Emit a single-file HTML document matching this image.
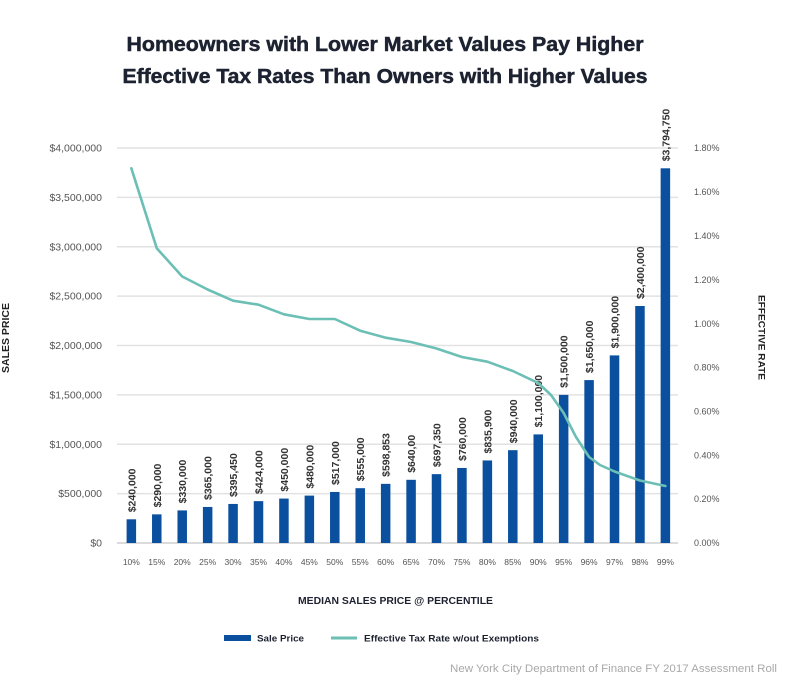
<!DOCTYPE html>
<html>
<head>
<meta charset="utf-8">
<style>
html,body{margin:0;padding:0;background:#fff;}
svg{display:block;}
text{font-family:"Liberation Sans",Arial,sans-serif;}
.yl{font-size:10.5px;fill:#555;text-anchor:end;}
.yr{font-size:9px;fill:#555;text-anchor:start;}
.xl{font-size:8.5px;fill:#555;text-anchor:middle;}
.bl{font-size:10.5px;fill:#333;font-weight:bold;text-anchor:start;}
.grid{stroke:#e2e2e2;stroke-width:1.5;}
.bar{fill:#0b4f9f;}
</style>
</head>
<body>
<svg width="796" height="686" viewBox="0 0 796 686" xmlns="http://www.w3.org/2000/svg">
<rect width="796" height="686" fill="#fff"/>
<!-- Title -->
<text x="385" y="51" text-anchor="middle" font-size="20" font-weight="bold" fill="#1d2231" stroke="#1d2231" stroke-width="0.5" textLength="517" lengthAdjust="spacingAndGlyphs">Homeowners with Lower Market Values Pay Higher</text>
<text x="385" y="83" text-anchor="middle" font-size="20" font-weight="bold" fill="#1d2231" stroke="#1d2231" stroke-width="0.5" textLength="525" lengthAdjust="spacingAndGlyphs">Effective Tax Rates Than Owners with Higher Values</text>

<!-- grid lines -->
<g class="grid">
<line x1="117" y1="148" x2="678" y2="148"/>
<line x1="117" y1="197.4" x2="678" y2="197.4"/>
<line x1="117" y1="246.75" x2="678" y2="246.75"/>
<line x1="117" y1="296.1" x2="678" y2="296.1"/>
<line x1="117" y1="345.5" x2="678" y2="345.5"/>
<line x1="117" y1="394.9" x2="678" y2="394.9"/>
<line x1="117" y1="444.25" x2="678" y2="444.25"/>
<line x1="117" y1="493.6" x2="678" y2="493.6"/>
</g>
<line x1="117" y1="543" x2="678" y2="543" stroke="#cfcfcf" stroke-width="1.5"/>

<!-- left axis labels -->
<g class="yl">
<text x="102" y="151.5">$4,000,000</text>
<text x="102" y="201">$3,500,000</text>
<text x="102" y="250.3">$3,000,000</text>
<text x="102" y="299.6">$2,500,000</text>
<text x="102" y="349">$2,000,000</text>
<text x="102" y="398.4">$1,500,000</text>
<text x="102" y="447.8">$1,000,000</text>
<text x="102" y="497.1">$500,000</text>
<text x="102" y="546.5">$0</text>
</g>

<!-- right axis labels -->
<g class="yr">
<text x="694" y="151">1.80%</text>
<text x="694" y="195">1.60%</text>
<text x="694" y="239">1.40%</text>
<text x="694" y="283">1.20%</text>
<text x="694" y="327">1.00%</text>
<text x="694" y="370.5">0.80%</text>
<text x="694" y="414.5">0.60%</text>
<text x="694" y="458.5">0.40%</text>
<text x="694" y="502">0.20%</text>
<text x="694" y="546">0.00%</text>
</g>

<!-- axis titles -->
<text transform="translate(9,338) rotate(-90)" text-anchor="middle" font-size="10" font-weight="bold" fill="#222" textLength="70" lengthAdjust="spacingAndGlyphs">SALES PRICE</text>
<text transform="translate(758.5,337.5) rotate(90)" text-anchor="middle" font-size="9.5" font-weight="bold" fill="#222" textLength="85" lengthAdjust="spacingAndGlyphs">EFFECTIVE RATE</text>

<!-- bars -->
<g class="bar">
<rect x="126.6" y="519.3" width="9.5" height="23.7"/>
<rect x="152.03" y="514.36" width="9.5" height="28.64"/>
<rect x="177.46" y="510.41" width="9.5" height="32.59"/>
<rect x="202.89" y="506.96" width="9.5" height="36.04"/>
<rect x="228.32" y="503.95" width="9.5" height="39.05"/>
<rect x="253.75" y="501.13" width="9.5" height="41.87"/>
<rect x="279.18" y="498.56" width="9.5" height="44.44"/>
<rect x="304.61" y="495.6" width="9.5" height="47.4"/>
<rect x="330.04" y="491.95" width="9.5" height="51.05"/>
<rect x="355.47" y="488.19" width="9.5" height="54.81"/>
<rect x="380.9" y="483.86" width="9.5" height="59.14"/>
<rect x="406.33" y="479.8" width="9.5" height="63.2"/>
<rect x="431.76" y="474.14" width="9.5" height="68.86"/>
<rect x="457.19" y="467.95" width="9.5" height="75.05"/>
<rect x="482.62" y="460.45" width="9.5" height="82.55"/>
<rect x="508.05" y="450.17" width="9.5" height="92.83"/>
<rect x="533.48" y="434.4" width="9.5" height="108.6"/>
<rect x="558.91" y="394.9" width="9.5" height="148.1"/>
<rect x="584.34" y="380.1" width="9.5" height="162.9"/>
<rect x="609.77" y="355.4" width="9.5" height="187.6"/>
<rect x="635.2" y="306" width="9.5" height="237"/>
<rect x="660.63" y="168.3" width="9.5" height="374.7"/>
</g>

<!-- bar labels -->
<g class="bl">
<text transform="translate(135.35,512.3) rotate(-90)">$240,000</text>
<text transform="translate(160.78,507.4) rotate(-90)">$290,000</text>
<text transform="translate(186.21,503.4) rotate(-90)">$330,000</text>
<text transform="translate(211.64,500) rotate(-90)">$365,000</text>
<text transform="translate(237.07,497) rotate(-90)">$395,450</text>
<text transform="translate(262.5,494.1) rotate(-90)">$424,000</text>
<text transform="translate(287.93,491.6) rotate(-90)">$450,000</text>
<text transform="translate(313.36,488.6) rotate(-90)">$480,000</text>
<text transform="translate(338.79,485) rotate(-90)">$517,000</text>
<text transform="translate(364.22,481.2) rotate(-90)">$555,000</text>
<text transform="translate(389.65,476.9) rotate(-90)">$598,853</text>
<text transform="translate(415.08,472.8) rotate(-90)">$640,00</text>
<text transform="translate(440.51,467.1) rotate(-90)">$697,350</text>
<text transform="translate(465.94,461) rotate(-90)">$760,000</text>
<text transform="translate(491.37,453.5) rotate(-90)">$835,900</text>
<text transform="translate(516.8,443.2) rotate(-90)">$940,000</text>
<text transform="translate(542.23,427.4) rotate(-90)">$1,100,000</text>
<text transform="translate(567.66,387.9) rotate(-90)">$1,500,000</text>
<text transform="translate(593.09,373.1) rotate(-90)">$1,650,000</text>
<text transform="translate(618.52,348.4) rotate(-90)">$1,900,000</text>
<text transform="translate(643.95,299) rotate(-90)">$2,400,000</text>
<text transform="translate(669.38,161.3) rotate(-90)">$3,794,750</text>
</g>

<!-- line -->
<polyline fill="none" stroke="#6cbfb5" stroke-width="2.6" stroke-linejoin="round" stroke-linecap="round"
points="131.35,168.3 156.78,248.3 182.21,276.5 207.64,289.5 233.07,300.7 258.5,304.7 283.93,314.3 309.36,319 334.79,319 360.22,330.7 385.65,337.7 411.08,342 436.51,348.5 461.94,357 487.37,361.7 512.8,371 538.23,383 551,395 563.66,413 576,437 589.09,457 600,465 614.52,471.5 639.95,480.5 665.38,486"/>

<!-- x labels -->
<g class="xl">
<text x="131.35" y="565">10%</text>
<text x="156.78" y="565">15%</text>
<text x="182.21" y="565">20%</text>
<text x="207.64" y="565">25%</text>
<text x="233.07" y="565">30%</text>
<text x="258.5" y="565">35%</text>
<text x="283.93" y="565">40%</text>
<text x="309.36" y="565">45%</text>
<text x="334.79" y="565">50%</text>
<text x="360.22" y="565">55%</text>
<text x="385.65" y="565">60%</text>
<text x="411.08" y="565">65%</text>
<text x="436.51" y="565">70%</text>
<text x="461.94" y="565">75%</text>
<text x="487.37" y="565">80%</text>
<text x="512.8" y="565">85%</text>
<text x="538.23" y="565">90%</text>
<text x="563.66" y="565">95%</text>
<text x="589.09" y="565">96%</text>
<text x="614.52" y="565">97%</text>
<text x="639.95" y="565">98%</text>
<text x="665.38" y="565">99%</text>
</g>

<!-- x axis title -->
<text x="298" y="604" font-size="10" font-weight="bold" fill="#1d2231" textLength="195" lengthAdjust="spacingAndGlyphs">MEDIAN SALES PRICE @ PERCENTILE</text>

<!-- legend -->
<rect x="224" y="635" width="27" height="6" fill="#0b4f9f"/>
<text x="257" y="641.5" font-size="9.5" font-weight="bold" fill="#1d2231" textLength="47" lengthAdjust="spacingAndGlyphs">Sale Price</text>
<line x1="331" y1="638" x2="357" y2="638" stroke="#6cbfb5" stroke-width="3"/>
<text x="364" y="641.5" font-size="9.5" font-weight="bold" fill="#1d2231" textLength="175" lengthAdjust="spacingAndGlyphs">Effective Tax Rate w/out Exemptions</text>

<!-- source -->
<text x="450" y="672" font-size="11" fill="#a8a8a8" textLength="327" lengthAdjust="spacingAndGlyphs">New York City Department of Finance FY 2017 Assessment Roll</text>
</svg>
</body>
</html>
